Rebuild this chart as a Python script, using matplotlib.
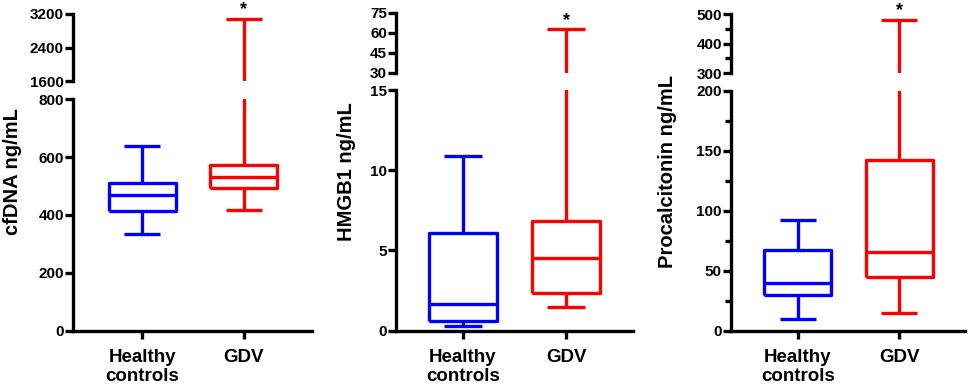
import matplotlib
matplotlib.use('Agg')
import matplotlib.pyplot as plt
from matplotlib.ticker import MultipleLocator, NullLocator

plt.rcParams['font.family'] = ['Liberation Sans', 'DejaVu Sans']
plt.rcParams['font.weight'] = 'bold'

groups = ['Healthy\ncontrols', 'GDV']
colors = ['#0000ff', '#ff0000']

# box stats per group: (whisker low, Q1, median, Q3, whisker high)
cfdna = [(333, 414, 470, 512, 638), (416, 494, 530, 572, 3080)]
hmgb1 = [(0.29, 0.62, 1.64, 6.1, 10.9), (1.48, 2.37, 4.53, 6.86, 62.5)]
pct = [(9.8, 29.5, 39.5, 67.6, 92.4), (14.5, 44.5, 65.9, 142.2, 480)]

ylabels = ['cfDNA ng/mL', 'HMGB1 ng/mL', 'Procalcitonin ng/mL']
lower_ticks = [[0, 200, 400, 600, 800], [0, 5, 10, 15], [0, 50, 100, 150, 200]]
upper_ticks = [[1600, 2400, 3200], [30, 45, 60, 75], [300, 400, 500]]
minor_steps = [None, None, 25]
upper_minor = [None, None, 50]

W, H = 970, 386
# pixel layout: left, right, lower top, upper bottom, upper top, xlim, label x
layout = [
    (73, 312, 99.3, 81.3, 14, (0.32, 2.67), 13),
    (396, 633, 90, 72.7, 12.7, (0.35, 2.65), 347),
    (731, 965, 91, 73.3, 14, (0.34, 2.65), 668),
]
axis_bottom = 330.7

fig = plt.figure(figsize=(W / 100, H / 100), dpi=100)

for i, stats_src in enumerate([cfdna, hmgb1, pct]):
    left, right, ltop, ubot, utop, xlim, labx = layout[i]
    ax = fig.add_axes([left / W, 1 - axis_bottom / H, (right - left) / W, (axis_bottom - ltop) / H])
    axu = fig.add_axes([left / W, 1 - ubot / H, (right - left) / W, (ubot - utop) / H])

    stats = []
    for g, s in zip(groups, stats_src):
        stats.append(dict(label=g, whislo=s[0], q1=s[1], med=s[2], q3=s[3], whishi=s[4], fliers=[]))

    for a in (ax, axu):
        for j, st in enumerate(stats):
            c = colors[j]
            lp = dict(color=c, linewidth=2.4, solid_capstyle='butt')
            a.bxp([st], positions=[j + 1], widths=0.66, capwidths=0.36, showfliers=False,
                  boxprops=lp, whiskerprops=lp, capprops=lp, medianprops=lp)
        a.set_xlim(*xlim)
        a.spines['top'].set_visible(False)
        a.spines['right'].set_visible(False)
        for sp in a.spines.values():
            sp.set_linewidth(2.4)
        a.tick_params(axis='y', which='major', length=5.5, width=2.4, labelsize=11, pad=1)
        a.tick_params(axis='y', which='minor', length=4, width=2.4)

    ax.set_ylim(lower_ticks[i][0], lower_ticks[i][-1])
    ax.set_yticks(lower_ticks[i])
    if minor_steps[i]:
        ax.yaxis.set_minor_locator(MultipleLocator(minor_steps[i]))
    ax.set_xticks([1, 2])
    ax.set_xticklabels(groups, fontsize=13.5, fontweight='bold', linespacing=1.1)
    ax.tick_params(axis='x', length=5.5, width=2.4, pad=8)

    axu.set_ylim(upper_ticks[i][0], upper_ticks[i][-1])
    axu.set_yticks(upper_ticks[i])
    if upper_minor[i]:
        axu.yaxis.set_minor_locator(MultipleLocator(upper_minor[i]))
    axu.spines['bottom'].set_visible(False)
    axu.xaxis.set_major_locator(NullLocator())
    axu.set_xticks([])

    axu.annotate('*', xy=(2, stats_src[1][4]), xytext=(0, 6.5), textcoords='offset points',
                 ha='center', va='center', fontsize=13, annotation_clip=False)

    fig.text(labx / W, 1 - 172 / H, ylabels[i], rotation=90, ha='center', va='center',
             fontsize=14.5, fontweight='bold')

fig.savefig('out.png', dpi=100)
